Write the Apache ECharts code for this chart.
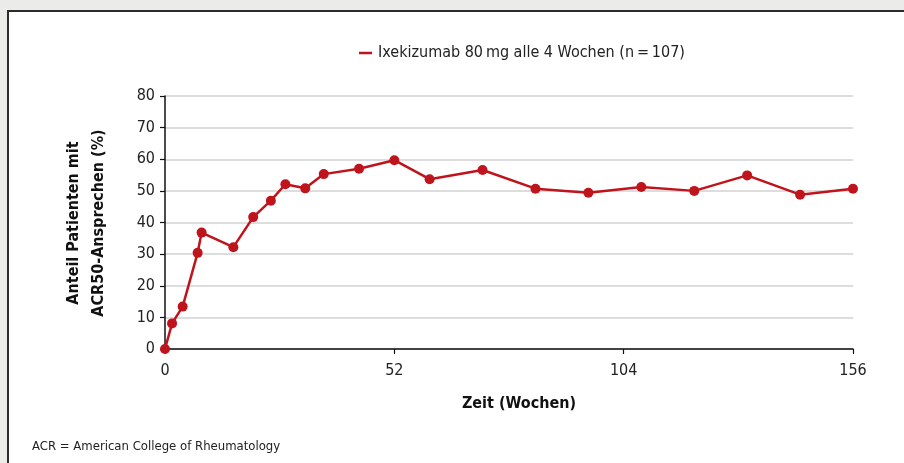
<!DOCTYPE html>
<html>
<head>
<meta charset="utf-8">
<script src="https://cdn.jsdelivr.net/npm/echarts@6/dist/echarts.min.js"></script>
<style>
html,body{margin:0;padding:0;width:904px;height:463px;background:#ebecea;overflow:hidden;}
#panel{position:absolute;left:7px;top:10px;width:910px;height:470px;background:#fff;border-left:2px solid #2b2b2b;border-top:2px solid #2b2b2b;}
#chart{position:absolute;left:0;top:0;width:904px;height:463px;}
</style>
</head>
<body>
<div id="panel"></div>
<div id="chart"></div>
<script>
const weeks = [0, 1.6, 4, 7.4, 8.3, 15.5, 20, 24, 27.3, 31.8, 36, 44, 52, 60, 72, 84, 96, 108, 120, 132, 144, 156];
const values = [0, 8.1, 13.4, 30.4, 36.8, 32.2, 41.7, 46.9, 52.1, 50.8, 55.3, 57.0, 59.7, 53.7, 56.6, 50.7, 49.4, 51.2, 50.0, 54.9, 48.8, 50.7];
const seriesName = 'Ixekizumab 80\u2009mg alle 4 Wochen (n\u2009=\u2009107)';
const xTicks = [0, 52, 104, 156];
const yTicks = [0, 10, 20, 30, 40, 50, 60, 70, 80];
const xTitle = 'Zeit (Wochen)';
const yTitle = 'Anteil Patienten mit\nACR50-Ansprechen (%)';
const footnote = 'ACR = American College of Rheumatology';

const FONT = '"Liberation Sans Narrow", "DejaVu Sans Condensed", "Roboto Condensed", sans-serif';
const RED = '#c0141c';

const chart = echarts.init(document.getElementById('chart'), null, {renderer: 'canvas'});
chart.setOption({
  backgroundColor: 'transparent',
  animation: false,
  textStyle: {fontFamily: FONT},
  grid: {left: 165, right: 51, top: 96, bottom: 114, containLabel: false},
  legend: {
    data: [{name: seriesName, icon: 'rect'}],
    left: 359, top: 45, padding: 0,
    itemWidth: 13, itemHeight: 2.5, itemGap: 6,
    textStyle: {fontFamily: FONT, fontSize: 16, color: '#222', padding: [0, 0, 0, 1]}
  },
  xAxis: {
    type: 'value', min: 0, max: 156, interval: 52,
    axisLine: {show: true, lineStyle: {color: '#111', width: 1.5}},
    axisTick: {show: true, length: 5, lineStyle: {color: '#111', width: 1.2}},
    axisLabel: {
      margin: 14, fontSize: 16, color: '#222', fontFamily: FONT,
      formatter: v => xTicks.includes(v) ? String(v) : ''
    },
    splitLine: {show: false}
  },
  yAxis: {
    type: 'value', min: 0, max: 80, interval: 10,
    axisLine: {show: true, lineStyle: {color: '#111', width: 1.5}},
    axisTick: {show: true, length: 5, lineStyle: {color: '#111', width: 1.2}},
    axisLabel: {
      margin: 10, fontSize: 16, color: '#222', fontFamily: FONT,
      formatter: v => yTicks.includes(v) ? String(v) : ''
    },
    splitLine: {show: true, lineStyle: {color: '#d2d2d2', width: 1.5}}
  },
  graphic: [
    {
      type: 'text', x: 86, y: 223, rotation: Math.PI / 2,
      style: {text: yTitle, font: 'bold 16px ' + FONT, fill: '#111', align: 'center', verticalAlign: 'middle', lineHeight: 25}
    },
    {
      type: 'text', x: 519, y: 404,
      style: {text: xTitle, font: 'bold 16px ' + FONT, fill: '#111', align: 'center', verticalAlign: 'middle'}
    },
    {
      type: 'text', x: 32, y: 447,
      style: {text: footnote, font: '13px ' + FONT, fill: '#222', align: 'left', verticalAlign: 'middle'}
    }
  ],
  series: [{
    name: seriesName,
    type: 'line',
    data: weeks.map((w, i) => [w, values[i]]),
    color: RED,
    lineStyle: {color: RED, width: 2.5},
    itemStyle: {color: RED},
    symbol: 'circle', symbolSize: 10, showSymbol: true,
    clip: false
  }]
});
</script>
</body>
</html>
